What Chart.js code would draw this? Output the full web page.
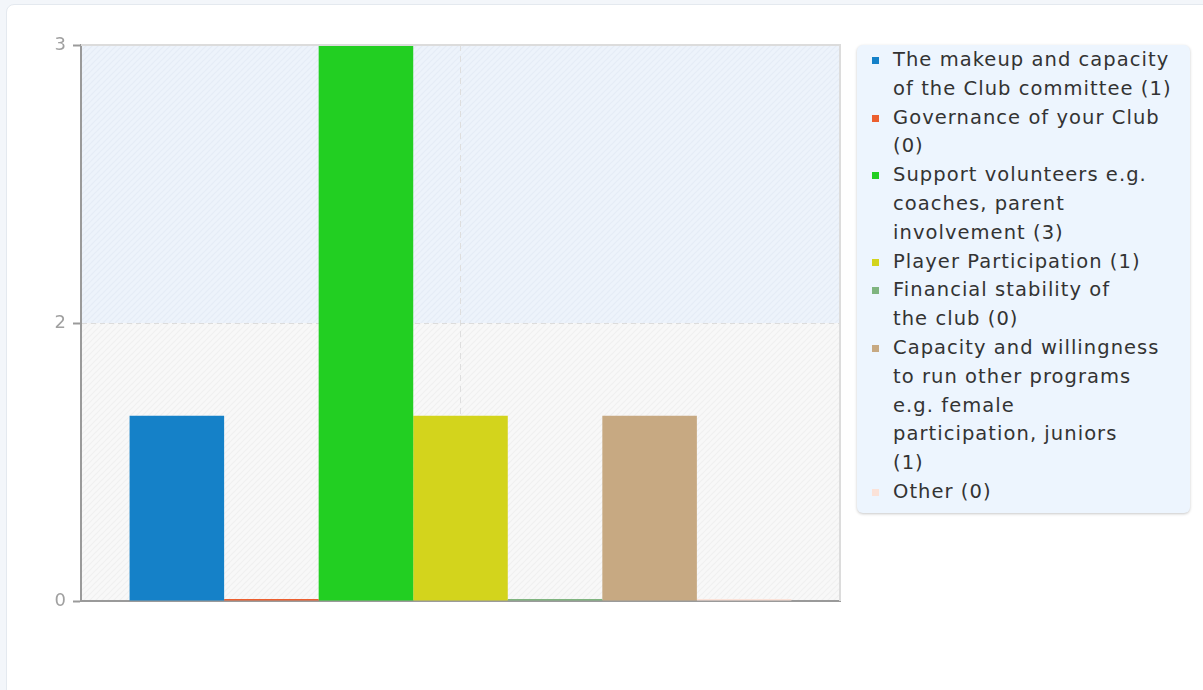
<!DOCTYPE html>
<html>
<head>
<meta charset="utf-8">
<script src="https://cdn.jsdelivr.net/npm/chart.js@4/dist/chart.umd.min.js"></script>
<style>
  html, body { margin: 0; padding: 0; }
  body { width: 1203px; height: 690px; background: #f3f6fa; overflow: hidden; font-family: 'DejaVu Sans', sans-serif; }
  .card { position: absolute; left: 6px; top: 4px; width: 1220px; height: 700px; background: #fff; border: 1px solid #e4e9ef; border-radius: 8px; }
  .chart-wrap { position: absolute; left: 0; top: 0; width: 850px; height: 690px; }
  #legend { position: absolute; left: 857px; top: 45px; width: 333px; height: 468px; box-sizing: border-box;
            background: #edf5fe; border-radius: 6px; box-shadow: 0 1px 3px rgba(0,0,0,0.22); padding: 1px 0 0 0; }
  #legend ul { list-style: none; margin: 0; padding: 0; }
  #legend li { position: relative; padding-left: 36px; font-size: 19.5px; letter-spacing: 1.05px; line-height: 28.8px; color: #333; white-space: pre-line; }
  #legend li span { position: absolute; left: 15px; top: 11px; width: 7px; height: 7px; }
</style>
</head>
<body>
<div class="card"></div>
<div class="chart-wrap"><canvas id="barCanvas"></canvas></div>
<div id="legend"></div>
<script>
// Respostas por área de preocupação — um grupo só, uma barra por área.
const AREAS = [
  'The makeup and capacity of the Club committee',
  'Governance of your Club',
  'Support volunteers e.g. coaches, parent involvement',
  'Player Participation',
  'Financial stability of the club',
  'Capacity and willingness to run other programs e.g. female participation, juniors',
  'Other'
];
const COUNTS = [1, 0, 3, 1, 0, 1, 0];
const COLORS = ['#1581c8', '#ec5f2f', '#22cf22', '#d3d41c', '#7fb47f', '#c7a982', '#fbe2d8'];
const Y_TICKS = [0, 1.5, 3];

// quebra o texto da legenda em ~25 caracteres por linha
function wrap(text, width) {
  const lines = [];
  let cur = '';
  text.split(' ').forEach(w => {
    if (cur && (cur + ' ' + w).length > width) { lines.push(cur); cur = w; }
    else cur = cur ? cur + ' ' + w : w;
  });
  if (cur) lines.push(cur);
  return lines.join('\n');
}

function stripes(base, line) {
  const c = document.createElement('canvas');
  c.width = 6; c.height = 6;
  const g = c.getContext('2d');
  g.fillStyle = base; g.fillRect(0, 0, 6, 6);
  g.strokeStyle = line; g.lineWidth = 1.2;
  g.beginPath();
  g.moveTo(-1, 7); g.lineTo(7, -1);
  g.moveTo(-4, 4); g.lineTo(4, -4);
  g.moveTo(2, 10); g.lineTo(10, 2);
  g.stroke();
  return g.createPattern(c, 'repeat');
}

// faixas de fundo + moldura de cima/direita
const plotBands = {
  id: 'plotBands',
  beforeDraw(chart) {
    const { ctx, chartArea: a, scales: { y } } = chart;
    const mid = y.getPixelForValue(Y_TICKS[1]);
    ctx.save();
    ctx.fillStyle = stripes('#edf3fb', '#e5ecf6');
    ctx.fillRect(a.left, a.top, a.right - a.left, mid - a.top);
    ctx.fillStyle = stripes('#f8f8f8', '#f0f0f0');
    ctx.fillRect(a.left, mid, a.right - a.left, a.bottom - mid);
    ctx.restore();
  },
  afterDraw(chart) {
    const { ctx, chartArea: a } = chart;
    ctx.save();
    ctx.strokeStyle = '#dcdcdc';
    ctx.lineWidth = 2;
    ctx.beginPath();
    ctx.moveTo(a.left, a.top); ctx.lineTo(a.right, a.top); ctx.lineTo(a.right, a.bottom);
    ctx.stroke();
    ctx.restore();
  }
};

const htmlLegend = {
  id: 'htmlLegend',
  afterUpdate(chart) {
    const box = document.getElementById('legend');
    const ul = document.createElement('ul');
    chart.data.datasets.forEach(ds => {
      const li = document.createElement('li');
      const sw = document.createElement('span');
      sw.style.background = ds.backgroundColor;
      li.appendChild(sw);
      li.appendChild(document.createTextNode(wrap(ds.label + ' (' + ds.data[0] + ')', 25)));
      ul.appendChild(li);
    });
    box.innerHTML = '';
    box.appendChild(ul);
  }
};

const el = document.getElementById('barCanvas');
window.barChart = new Chart(el, {
  type: 'bar',
  data: {
    labels: [''],
    datasets: AREAS.map((name, i) => ({
      label: name,
      data: [COUNTS[i]],
      backgroundColor: COLORS[i],
      borderWidth: 0,
      minBarLength: 2,
      categoryPercentage: 0.872,
      barPercentage: 1.0
    }))
  },
  options: {
    responsive: true,
    maintainAspectRatio: false,
    animation: false,
    layout: { padding: { top: 45, right: 10, bottom: 89, left: 0 } },
    plugins: { legend: { display: false }, tooltip: { enabled: false } },
    scales: {
      x: {
        grid: { offset: false, color: '#dedede', drawTicks: false },
        border: { color: '#9a9a9a', width: 2, dash: [6, 5] },
        ticks: { display: false },
        afterFit(scale) { scale.height = 0; }
      },
      y: {
        min: 0,
        max: 3,
        afterBuildTicks(scale) { scale.ticks = Y_TICKS.map(v => ({ value: v })); },
        ticks: {
          color: '#a0a0a0',
          font: { family: "'DejaVu Sans', sans-serif", size: 18 },
          padding: 7,
          callback: v => String(Math.round(v))
        },
        grid: {
          color: ctx => (ctx.tick && ctx.tick.value === 1.5) ? '#dcdcdc' : 'rgba(0,0,0,0)',
          tickColor: '#9a9a9a',
          tickLength: 8,
          tickWidth: 2
        },
        border: { color: '#9a9a9a', width: 2, dash: [5, 4] },
        afterFit(scale) { scale.width = 81; }
      }
    }
  },
  plugins: [plotBands, htmlLegend]
});
</script>
</body>
</html>
